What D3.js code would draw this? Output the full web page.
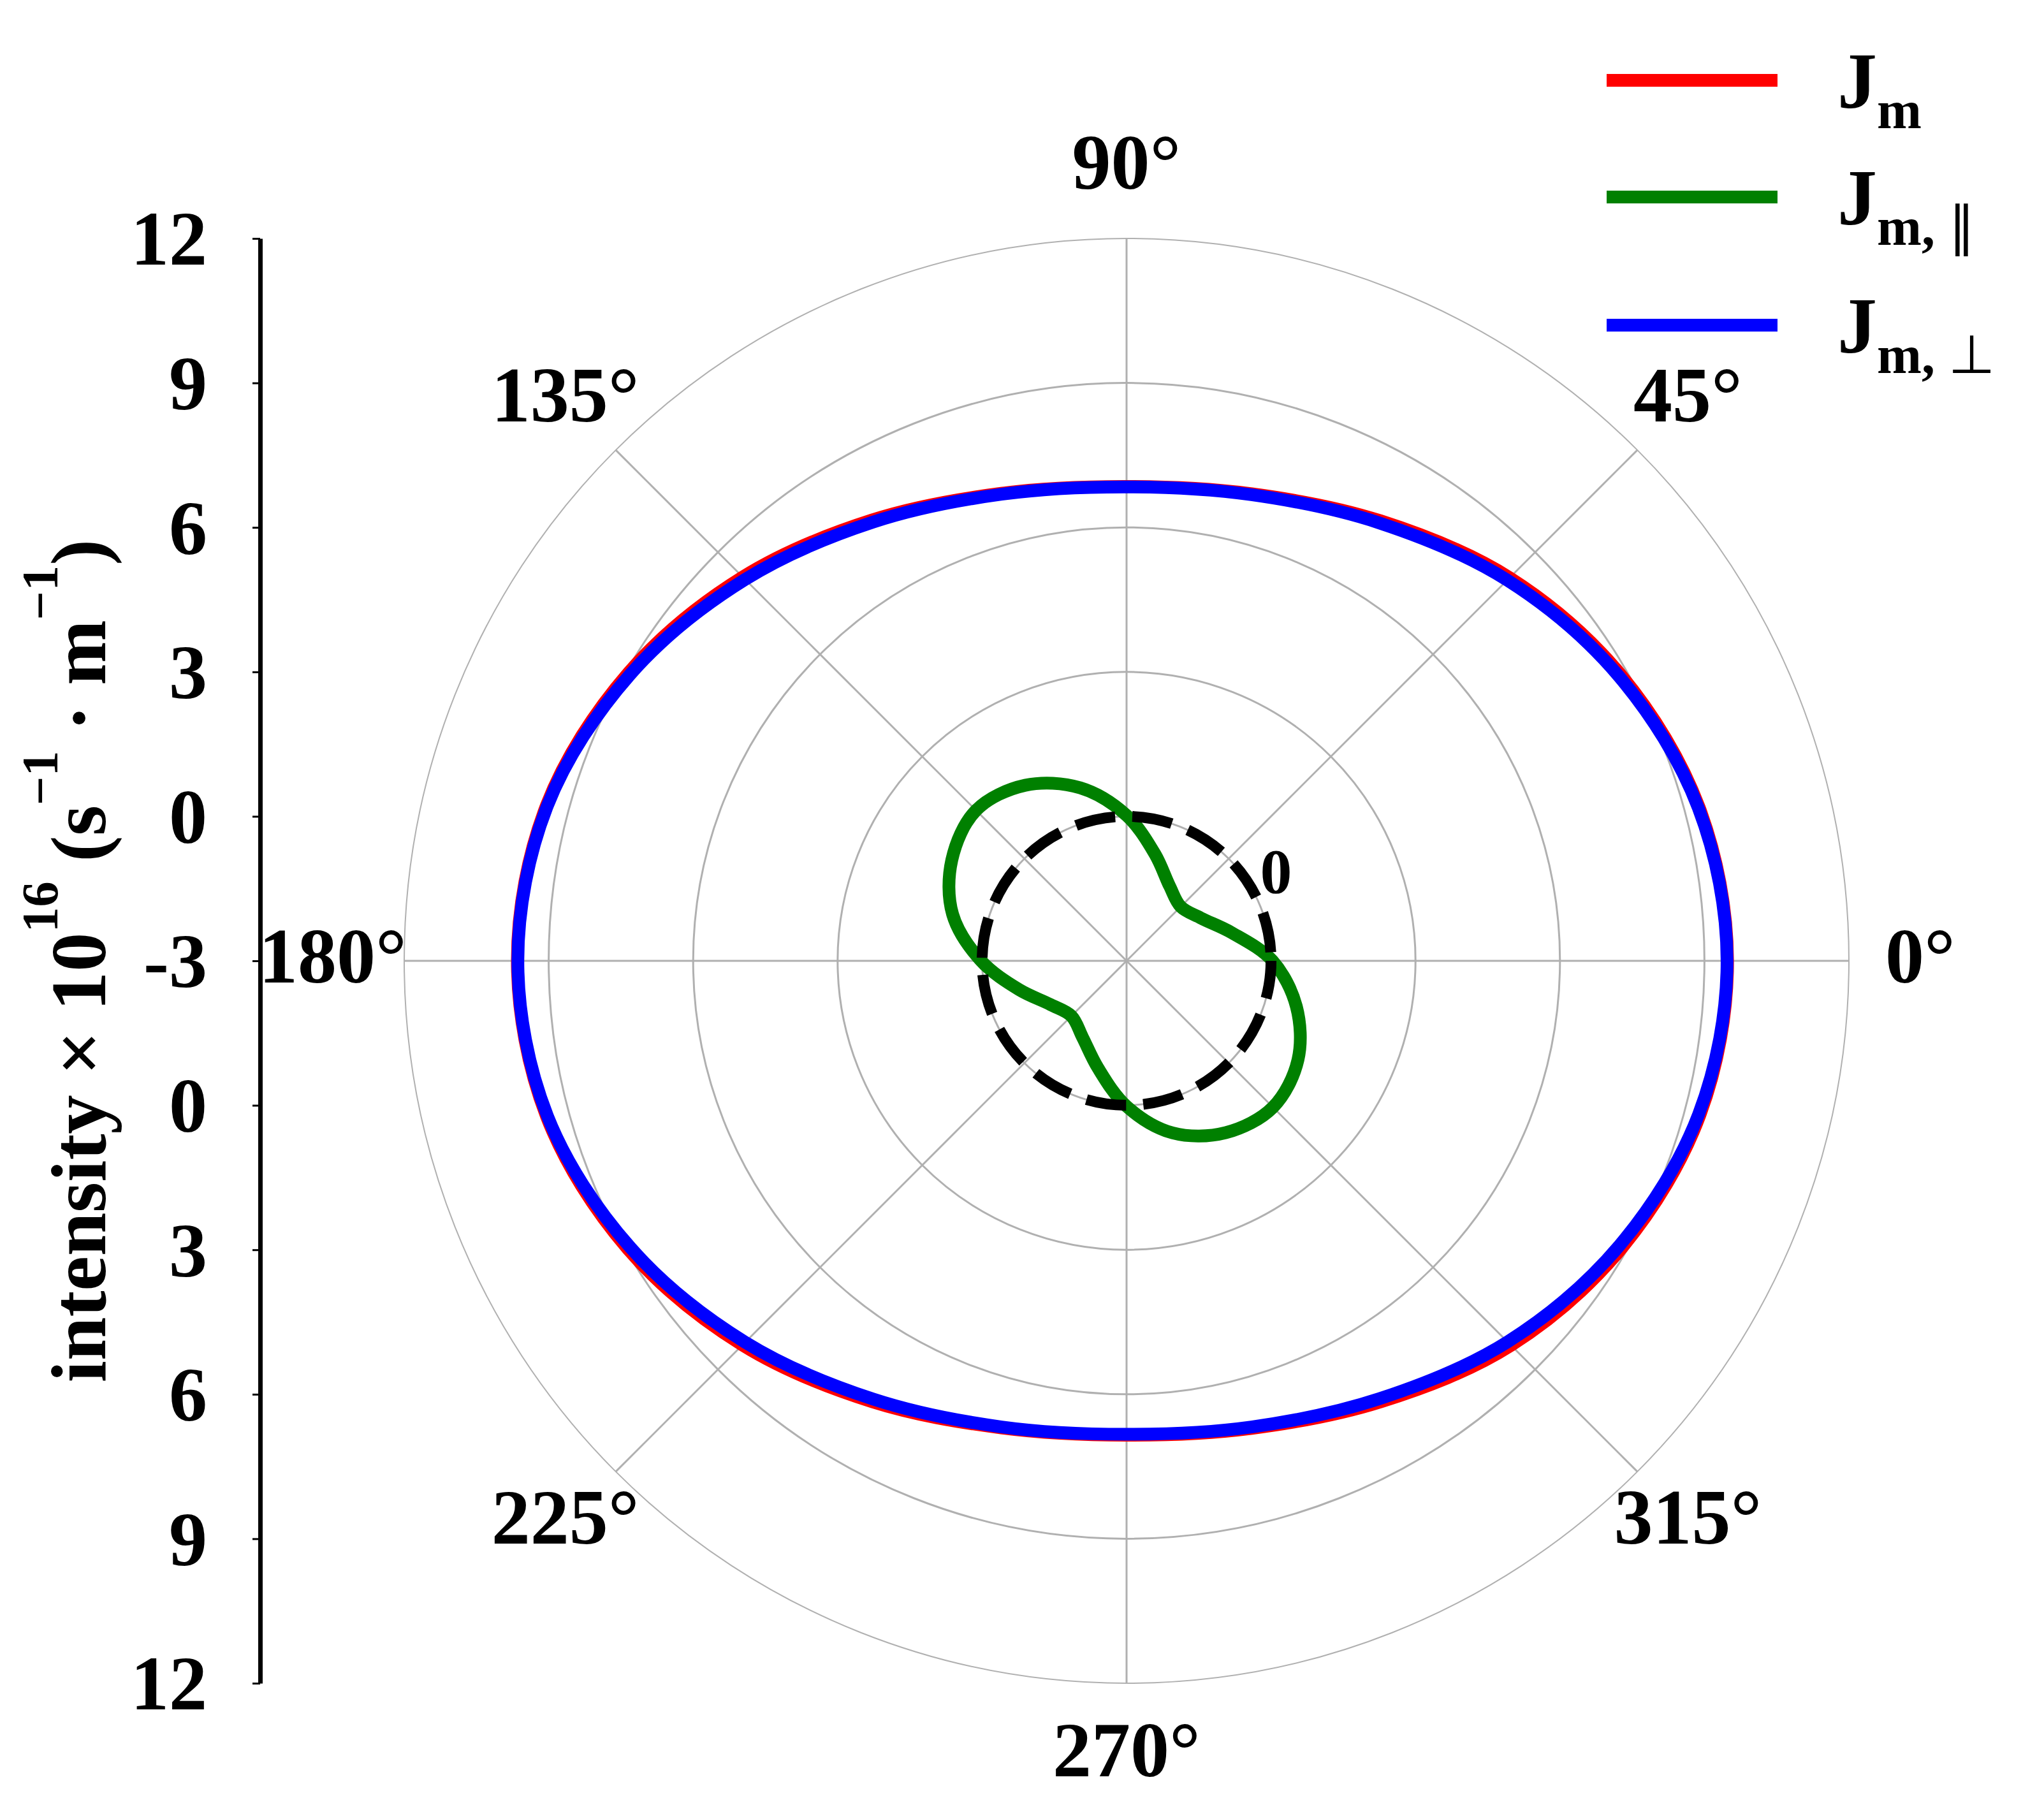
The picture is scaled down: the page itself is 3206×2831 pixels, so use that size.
<!DOCTYPE html>
<html>
<head>
<meta charset="utf-8">
<script src="https://cdn.jsdelivr.net/npm/d3@7"></script>
<style>
  html, body { margin: 0; padding: 0; background: #ffffff; }
  svg { display: block; }
</style>
</head>
<body>
<svg id="chart" width="3206" height="2831"></svg>
<script>
// ---------------- DATA ----------------
// polar angles (degrees, counter-clockwise from east)
const angles = [0, 15, 30, 45, 60, 75, 90, 105, 120, 135, 150, 165,
                180, 195, 210, 225, 240, 255, 270, 285, 300, 315, 330, 345];
// J_m (red)
const jm     = [9.48, 9.31, 8.86, 8.25, 7.55, 7.04, 6.85, 7.05, 7.57, 8.27, 8.95, 9.47,
                9.65, 9.47, 8.96, 8.28, 7.57, 7.04, 6.85, 7.05, 7.57, 8.29, 8.89, 9.33];
// J_m,parallel (green)
const jmPar  = [0.03, -0.74, -1.22, -1.41, -1.21, -0.71, 0.02, 0.72, 1.21, 1.42, 1.19, 0.74,
                0.02, -0.69, -1.18, -1.38, -1.17, -0.70, 0.02, 0.70, 1.12, 1.30, 1.11, 0.65];
// J_m,perp (blue)
const jmPerp = [9.47, 9.29, 8.81, 8.18, 7.50, 7.02, 6.84, 7.03, 7.52, 8.20, 8.90, 9.45,
                9.64, 9.45, 8.90, 8.20, 7.51, 7.02, 6.83, 7.02, 7.50, 8.19, 8.82, 9.30];
// reference (dashed) level
const zeroLevel = 0;
// radial grid values
const radialGrid = [0, 3, 6, 9, 12];
const radialDomain = [-3, 12];
// angular grid / labels
const angleTicks = [0, 45, 90, 135, 180, 225, 270, 315];
// left axis ticks (signed distance from centre, in data units) and their labels
const axisTicks = [15, 12, 9, 6, 3, 0, -3, -6, -9, -12, -15];
const axisTickLabels = ["12", "9", "6", "3", "0", "-3", "0", "3", "6", "9", "12"];
// legend
const seriesNames = ["m", "m, ", "m, "];
const seriesSymbols = ["", "\u2225", "\u22A5"];
const seriesColors = ["#ff0000", "#008000", "#0000ff"];

// ---------------- LAYOUT ----------------
const cx = 1767, cy = 1507, R = 1133;
const serif = "'Liberation Serif', 'Times New Roman', serif";
const svg = d3.select("#chart");

const rScale = d3.scaleLinear().domain(radialDomain).range([0, R]);
const toRad = d => (90 - d) * Math.PI / 180;   // for d3.lineRadial
const mathRad = d => d * Math.PI / 180;

const g = svg.append("g").attr("transform", `translate(${cx},${cy})`);

// rings
g.selectAll("circle.ring").data(radialGrid).join("circle")
  .attr("class", "ring")
  .attr("r", d => rScale(d))
  .attr("fill", "none")
  .attr("stroke", "#b0b0b0")
  .attr("stroke-width", d => d === radialDomain[1] ? 2 : 3);

// spokes
g.selectAll("line.spoke").data(angleTicks).join("line")
  .attr("class", "spoke")
  .attr("x1", 0).attr("y1", 0)
  .attr("x2", d => R * Math.cos(mathRad(d)))
  .attr("y2", d => -R * Math.sin(mathRad(d)))
  .attr("stroke", "#b0b0b0")
  .attr("stroke-width", 3);

// series
const radial = vals => d3.lineRadial()
  .angle((d, i) => toRad(angles[i]))
  .radius(d => rScale(d))
  .curve(d3.curveCatmullRomClosed)(vals);

g.append("path").attr("d", radial(jm))
  .attr("fill", "none").attr("stroke", seriesColors[0]).attr("stroke-width", 20);
g.append("path").attr("d", radial(jmPar))
  .attr("fill", "none").attr("stroke", seriesColors[1]).attr("stroke-width", 20);
g.append("path").attr("d", radial(jmPerp))
  .attr("fill", "none").attr("stroke", seriesColors[2]).attr("stroke-width", 20);

// dashed zero level
g.append("circle")
  .attr("r", rScale(zeroLevel))
  .attr("fill", "none")
  .attr("stroke", "#000")
  .attr("stroke-width", 17)
  .attr("stroke-dasharray", "63,27")
  .attr("stroke-dashoffset", 3.5);

// radial label "0"
const rlabAng = 31;
g.append("text")
  .attr("x", (rScale(zeroLevel) + 47) * Math.cos(mathRad(rlabAng)))
  .attr("y", -(rScale(zeroLevel) + 47) * Math.sin(mathRad(rlabAng)) + 34)
  .attr("text-anchor", "middle")
  .attr("font-family", serif).attr("font-weight", "bold").attr("font-size", 100)
  .text(String(zeroLevel));

// angle labels
const labR = 1245;
g.selectAll("text.ang").data(angleTicks).join("text")
  .attr("class", "ang")
  .attr("x", d => labR * Math.cos(mathRad(d)))
  .attr("y", d => -labR * Math.sin(mathRad(d)) + 34)
  .attr("text-anchor", "middle")
  .attr("font-family", serif).attr("font-weight", "bold").attr("font-size", 122)
  .text(d => d + "\u00B0");

// left axis (mirrored radial scale)
const axisScale = d3.scaleLinear().domain([-15, 15]).range([cy + R, cy - R]);
const axis = d3.axisLeft(axisScale)
  .tickValues(axisTicks)
  .tickFormat((d, i) => axisTickLabels[i])
  .tickSize(12).tickSizeOuter(0).tickPadding(71);
const ax = svg.append("g").attr("transform", "translate(408,0)").call(axis);
ax.select(".domain").attr("stroke", "#000").attr("stroke-width", 7);
ax.selectAll(".tick line").attr("stroke", "#000").attr("stroke-width", 3);
ax.selectAll(".tick text")
  .attr("font-family", serif).attr("font-weight", "bold").attr("font-size", 120)
  .attr("fill", "#000").attr("dy", "0.34em");

// axis title
const title = svg.append("text")
  .attr("transform", `translate(165,${cy}) rotate(-90)`)
  .attr("text-anchor", "middle")
  .attr("font-family", serif).attr("font-weight", "bold").attr("font-size", 123);
title.append("tspan").text("intensity \u00D7 10");
title.append("tspan").attr("font-size", 80).attr("dy", -75).text("16");
title.append("tspan").attr("dy", 75).text(" (s");
title.append("tspan").attr("font-size", 80).attr("dy", -75).text("\u22121");
title.append("tspan").attr("dy", 75).text(" \u00B7 m");
title.append("tspan").attr("font-size", 80).attr("dy", -75).text("\u22121");
title.append("tspan").attr("dy", 75).text(")");

// legend
const legY = [126, 309, 510];
const leg = svg.append("g");
seriesColors.forEach((c, i) => {
  leg.append("line")
    .attr("x1", 2520).attr("x2", 2788)
    .attr("y1", legY[i]).attr("y2", legY[i])
    .attr("stroke", c).attr("stroke-width", 20);
  const t = leg.append("text")
    .attr("x", 2882).attr("y", legY[i] + 43)
    .attr("font-family", serif).attr("font-weight", "bold").attr("font-size", 124);
  t.append("tspan").text("J");
  t.append("tspan").attr("font-size", 84).attr("dy", 32).text(seriesNames[i]);
  if (seriesSymbols[i]) {
    t.append("tspan").attr("font-size", 84).attr("font-weight", "normal")
      .attr("font-family", "'DejaVu Sans', sans-serif").text(seriesSymbols[i]);
  }
});
</script>
</body>
</html>
